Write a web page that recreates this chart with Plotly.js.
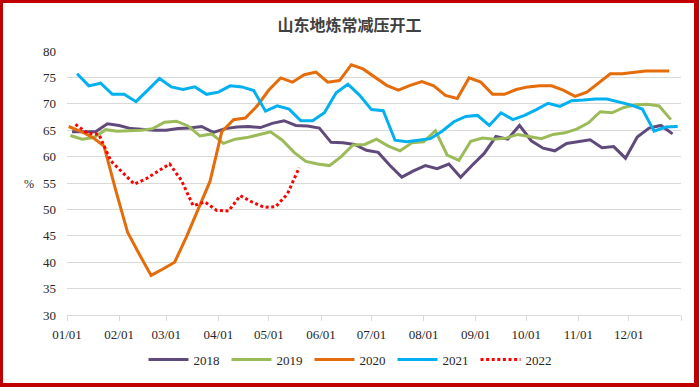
<!DOCTYPE html>
<html>
<head>
<meta charset="utf-8">
<script src="https://cdn.plot.ly/plotly-3.0.1.min.js"></script>
<style>
  html, body { margin: 0; padding: 0; background: #fff; }
  #wrap { position: relative; width: 699px; height: 387px; }
  #chart { position: absolute; left: 0; top: 0; width: 699px; height: 387px; }
  #frame { position: absolute; left: 0; top: 0; width: 699px; height: 387px; box-sizing: border-box;
           border-style: solid; border-color: #c00000; border-width: 3px 5px 4px 3px; pointer-events: none; }
</style>
</head>
<body>
<div id="wrap"><div id="chart"></div><div id="frame"></div></div>
<script>
// Series names and first weekly date (mapped onto a common calendar year)
const seriesNames = ["2018", "2019", "2020", "2021", "2022"];
const seriesStart = ["2021-01-04", "2021-01-03", "2021-01-02", "2021-01-07", "2021-01-06"];

// Weekly values (%)
const y2018 = [64.7, 64.7, 64.7, 66.2, 65.9, 65.3, 65.1, 65.0, 65.0, 65.3, 65.4, 65.7, 64.6,
  65.3, 65.6, 65.7, 65.5, 66.3, 66.8, 65.9, 65.8, 65.4, 62.7, 62.6, 62.3, 61.2,
  60.8, 58.3, 56.1, 57.3, 58.3, 57.7, 58.6, 56.1, 58.4, 60.6, 63.8, 63.3, 65.9,
  63.0, 61.6, 61.1, 62.5, 62.9, 63.2, 61.7, 61.9, 59.7, 63.7, 65.4, 65.9, 64.3];
const y2019 = [64.0, 63.3, 63.6, 65.1, 64.8, 64.9, 65.0, 65.3, 66.5, 66.7, 65.8, 63.9, 64.3,
  62.5, 63.3, 63.6, 64.2, 64.7, 63.1, 60.8, 59.1, 58.6, 58.3, 60.0, 62.2, 62.3,
  63.3, 62.0, 61.1, 62.6, 62.8, 64.9, 60.3, 59.3, 62.9, 63.5, 63.3, 63.5, 64.2,
  63.8, 63.4, 64.2, 64.5, 65.2, 66.4, 68.5, 68.3, 69.3, 69.8, 69.9, 69.6, 67.0];
const y2020 = [65.7, 64.8, 63.7, 62.0, 53.6, 45.7, 41.5, 37.5, 38.7, 40.0, 44.8, 50.0, 55.3,
  64.7, 67.0, 67.3, 69.6, 72.6, 74.9, 74.1, 75.5, 76.0, 74.1, 74.4, 77.4, 76.6,
  75.1, 73.5, 72.6, 73.5, 74.2, 73.4, 71.6, 71.0, 74.9, 74.1, 71.8, 71.8, 72.7,
  73.2, 73.4, 73.4, 72.6, 71.4, 72.2, 74.0, 75.7, 75.7, 76.0, 76.2, 76.2, 76.2];
const y2021 = [75.7, 73.4, 73.9, 71.8, 71.8, 70.4, 72.6, 74.8, 73.2, 72.7, 73.2, 71.8, 72.2,
  73.4, 73.2, 72.5, 68.6, 69.6, 69.0, 66.8, 66.8, 68.3, 72.1, 73.7, 71.6, 68.9,
  68.7, 63.1, 62.8, 63.1, 63.4, 64.8, 66.6, 67.6, 67.8, 65.9, 68.3, 67.0, 67.8,
  68.9, 70.1, 69.5, 70.6, 70.7, 70.9, 70.9, 70.4, 69.8, 69.0, 64.8, 65.6, 65.7];
const y2022 = [66.1, 64.5, 64.2, 59.2, 57.0, 54.8, 55.8, 57.2, 58.6, 55.5, 50.7, 51.4, 49.8,
  49.7, 52.6, 51.4, 50.4, 50.5, 52.9, 57.9];

// Axis ticks
const monthTicks = ["2021-01-01","2021-02-01","2021-03-01","2021-04-01","2021-05-01","2021-06-01",
  "2021-07-01","2021-08-01","2021-09-01","2021-10-01","2021-11-01","2021-12-01","2022-01-01"];
const monthLabels = ["01/01","02/01","03/01","04/01","05/01","06/01","07/01","08/01","09/01",
  "10/01","11/01","12/01",""];
const yTicks = [30, 35, 40, 45, 50, 55, 60, 65, 70, 75, 80];

const colors = ["#604a7b", "#9bbb59", "#e46c0a", "#00b0f0", "#ff0000"];
const values = [y2018, y2019, y2020, y2021, y2022];

function weeklyDates(start, n) {
  const out = [];
  const d0 = new Date(start + "T00:00:00Z");
  for (let i = 0; i < n; i++) {
    const d = new Date(d0.getTime() + i * 7 * 86400000);
    out.push(d.toISOString().slice(0, 10));
  }
  return out;
}

const tickFont = { family: "Liberation Serif, serif", size: 13, color: "#262626" };

const traces = values.map((v, i) => ({
  type: "scatter",
  mode: "lines",
  name: seriesNames[i],
  x: weeklyDates(seriesStart[i], v.length),
  y: v,
  line: i === 4 ? { color: colors[i], width: 3, dash: "3px,2.6px" } : { color: colors[i], width: 3 },
  hoverinfo: "skip"
}));

const layout = {
  width: 699, height: 387,
  margin: { l: 67, r: 18, t: 51, b: 69 },
  paper_bgcolor: "#ffffff",
  plot_bgcolor: "#ffffff",
  showlegend: true,
  title: {
    text: "<b>山东地炼常减压开工</b>",
    font: { family: "Noto Sans CJK SC, sans-serif", size: 16, color: "#404040" },
    x: 0.5, xref: "container", xanchor: "center",
    y: 1 - 25 / 387, yref: "container", yanchor: "middle"
  },
  xaxis: {
    type: "date",
    range: ["2021-01-01", "2022-01-01"],
    tickmode: "array",
    tickvals: monthTicks,
    ticktext: monthLabels,
    ticks: "outside", ticklen: 5, tickcolor: "#d9d9d9", tickwidth: 1,
    ticklabelstandoff: 2,
    showgrid: false,
    showline: true, linecolor: "#d9d9d9", linewidth: 1,
    tickfont: tickFont, automargin: false,
    zeroline: false, fixedrange: true
  },
  yaxis: {
    range: [30, 80],
    tickmode: "array",
    tickvals: yTicks,
    ticktext: yTicks.map(String),
    showgrid: true, gridcolor: "#d9d9d9", gridwidth: 1,
    zeroline: false, showline: false,
    ticks: "", ticklabelstandoff: 10,
    tickfont: tickFont, automargin: false, fixedrange: true
  },
  legend: {
    orientation: "h",
    x: 0.5 - (374 - 351) / 614, xanchor: "center",
    y: -(363 - 318) / 267, yanchor: "middle",
    font: tickFont,
    entrywidth: 28, entrywidthmode: "pixels",
    itemwidth: 40,
    bgcolor: "rgba(0,0,0,0)"
  },
  annotations: [{
    text: "%", xref: "paper", yref: "paper",
    x: (29 - 67) / 614, y: (318 - 186) / 267,
    xanchor: "center", yanchor: "middle", showarrow: false,
    font: { family: "Liberation Serif, serif", size: 12, color: "#262626" }
  }]
};

Plotly.newPlot("chart", traces, layout, { staticPlot: true, displayModeBar: false });
</script>
</body>
</html>
